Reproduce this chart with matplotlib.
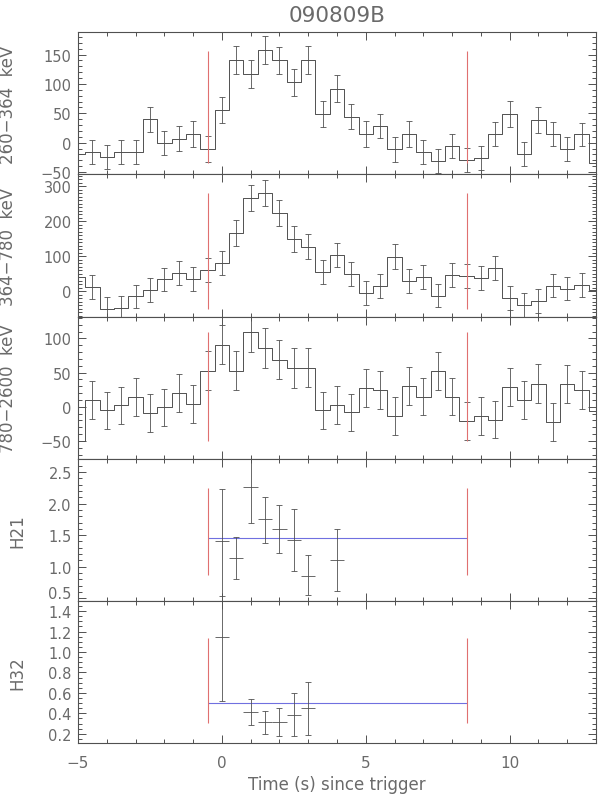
import numpy as np
import matplotlib
matplotlib.use('Agg')
import matplotlib.pyplot as plt
from matplotlib.ticker import MultipleLocator, FuncFormatter

# time bins (s since trigger), 0.5 s wide
t = np.arange(-5.0, 13.5, 0.5)

# counts per band
c1 = np.array([-20, -16, -24, -16, -16, 40, 0, 7, 15, -11, 56, 141, 117, 158, 140, 103, 141,
               49, 92, 44, 15, 28, -11, 15, -16, -31, -5, -29, -26, 15, 49, -19, 39, 15, -11, 14, -34])
e1 = np.array([20, 20, 20.4, 20, 20, 21.5, 20.4, 21, 21.5, 22.4, 21.8, 24, 23.8, 23.8, 23.5, 23, 23.8,
               21.5, 23.2, 21.2, 21.5, 20.7, 21.2, 21.5, 20.1, 19.8, 20.7, 20.1, 20.1, 21, 22, 20.4, 22.4,
               21, 20.7, 20.1, 20])

c2 = np.array([41, 12, -51, -48, -14, 5, 34, 53, 35, 62, 81, 166, 266, 280, 225, 150, 128,
               56, 104, 50, -5, 15, 99, 30, 41, -12, 47, 44, 39, 67, -19, -39, -28, 16, 8, 18, 3])
e2 = np.array([34, 34, 34.5, 34.5, 33, 34, 34, 34.5, 34, 34, 35.5, 37, 37, 37, 37, 36.4, 35.5,
               34.5, 35, 35, 35, 34.5, 35.5, 34.5, 35.5, 33.5, 34.5, 34, 34.5, 35, 35.5, 33.5, 33.5,
               32.6, 34, 34.5, 34])

c3 = np.array([-50, 10, -5, 2, 14, -9, -1, 20, 4, 53, 91, 53, 110, 86, 69, 57, 57,
               -5, 2, -8, 27, 24, -14, 30, 15, 53, 15, -21, -14, -19, 29, 10, 34, -22, 33, 25, -6])
e3 = np.array([27, 27.3, 27.3, 27.3, 28, 27.3, 27.3, 27.8, 28.3, 28, 29, 28, 30.5, 28.8, 29, 29, 28.3,
               27.3, 27.8, 27.3, 27.8, 27.8, 27.8, 28, 27.6, 27.8, 27.6, 27.8, 27.8, 26.9, 28.3, 27.6,
               28.3, 27.6, 27.8, 27.6, 27])

# hardness ratios
h21_t = np.array([0.0, 0.5, 1.0, 1.5, 2.0, 2.5, 3.0, 4.0])
h21 = np.array([1.40, 1.145, 2.257, 1.75, 1.59, 1.42, 0.86, 1.11])
h21_lo = np.array([0.86, 0.335, 0.572, 0.38, 0.38, 0.48, 0.30, 0.49])
h21_hi = np.array([0.835, 0.325, 0.60, 0.36, 0.39, 0.49, 0.32, 0.48])
h21_mean = 1.45

h32_t = np.array([0.0, 1.0, 1.5, 2.0, 2.5, 3.0])
h32 = np.array([1.148, 0.413, 0.314, 0.314, 0.386, 0.455])
h32_lo = np.array([0.628, 0.125, 0.117, 0.137, 0.209, 0.265])
h32_hi = np.array([0.65, 0.127, 0.108, 0.141, 0.214, 0.252])
h32_mean = 0.50

# interval used for the ratios
t_lo, t_hi = -0.5, 8.5

labels = ['260\u2212364  keV', '364\u2212780  keV', '780\u22122600  keV', 'H21', 'H32']
ylims = [(-54, 188), (-72, 334), (-76, 132), (0.46, 2.71), (0.11, 1.50)]
majors = [50, 100, 50, 0.5, 0.2]
minors = [10, 10, 10, 0.1, 0.05]
red_spans = [(-34, 157), (-51, 281), (-50, 109), (0.87, 2.25), (0.31, 1.14)]

line_col = '#505050'
text_col = '#6a6a6a'
red = '#e07070'
blue = '#7070e0'

fig = plt.figure(figsize=(6, 8.04), dpi=100)
axes = fig.subplots(5, 1, sharex=True)
fig.subplots_adjust(left=78/600, right=596/600, top=1-33.3/804, bottom=1-744/804, hspace=0)

inside = (t > t[0]) & (t < t[-1])
for ax, c, e in zip(axes[:3], [c1, c2, c3], [e1, e2, e3]):
    ax.step(t, c, where='mid', color=line_col, lw=0.7)
    ax.errorbar(t[inside], c[inside], yerr=e[inside], fmt='none', ecolor=line_col,
                elinewidth=0.6, capsize=2.3, capthick=0.6)

for ax, tt, h, lo, hi, m in [(axes[3], h21_t, h21, h21_lo, h21_hi, h21_mean),
                             (axes[4], h32_t, h32, h32_lo, h32_hi, h32_mean)]:
    ax.hlines(m, t_lo, t_hi, color=blue, lw=0.8, zorder=1)
    ax.errorbar(tt, h, yerr=[lo, hi], fmt='none', ecolor=line_col, elinewidth=0.6,
                capsize=2.3, capthick=0.6)
    ax.errorbar(tt, h, xerr=0.25, fmt='none', ecolor=line_col, elinewidth=0.6, capsize=0)

for i, ax in enumerate(axes):
    lo, hi = red_spans[i]
    ax.vlines([t_lo, t_hi], lo, hi, color=red, lw=0.8)
    ax.set_ylim(*ylims[i])
    ax.set_xlim(-5, 13)
    ax.yaxis.set_major_locator(MultipleLocator(majors[i]))
    ax.yaxis.set_minor_locator(MultipleLocator(minors[i]))
    ax.xaxis.set_major_locator(MultipleLocator(5))
    ax.xaxis.set_minor_locator(MultipleLocator(1))
    ax.tick_params(which='both', direction='in', top=True, right=True, color=line_col,
                   labelcolor=text_col, labelsize=10.5)
    ax.tick_params(axis='y', pad=4.5)
    ax.tick_params(axis='x', pad=9, labelsize=11)
    ax.tick_params(which='major', length=5.5, width=0.7)
    ax.tick_params(which='minor', length=3, width=0.7)
    for s in ax.spines.values():
        s.set_color(line_col)
        s.set_linewidth(0.8)
    ax.set_ylabel(labels[i], fontsize=12, color=text_col)
    if i < 3:
        ax.yaxis.set_label_coords(-0.118, 0.5)
    else:
        ax.yaxis.set_label_coords(-0.099, 0.5)

# lowest H21 label sits a little above its tick, clear of the H32 labels
axes[3].yaxis.set_major_formatter(FuncFormatter(lambda v, p: '' if abs(v - 0.5) < 1e-6 else f'{v:.1f}'))
axes[3].annotate('0.5', xy=(0, 0.5), xycoords=('axes fraction', 'data'), xytext=(-4.5, 3.5),
                 textcoords='offset points', ha='right', va='center', fontsize=10.5, color=text_col)

axes[0].set_title('090809B', fontsize=15.5, color=text_col, pad=8)
axes[-1].set_xlabel('Time (s) since trigger', fontsize=12, color=text_col, labelpad=3)

fig.savefig('out.png', dpi=100)
